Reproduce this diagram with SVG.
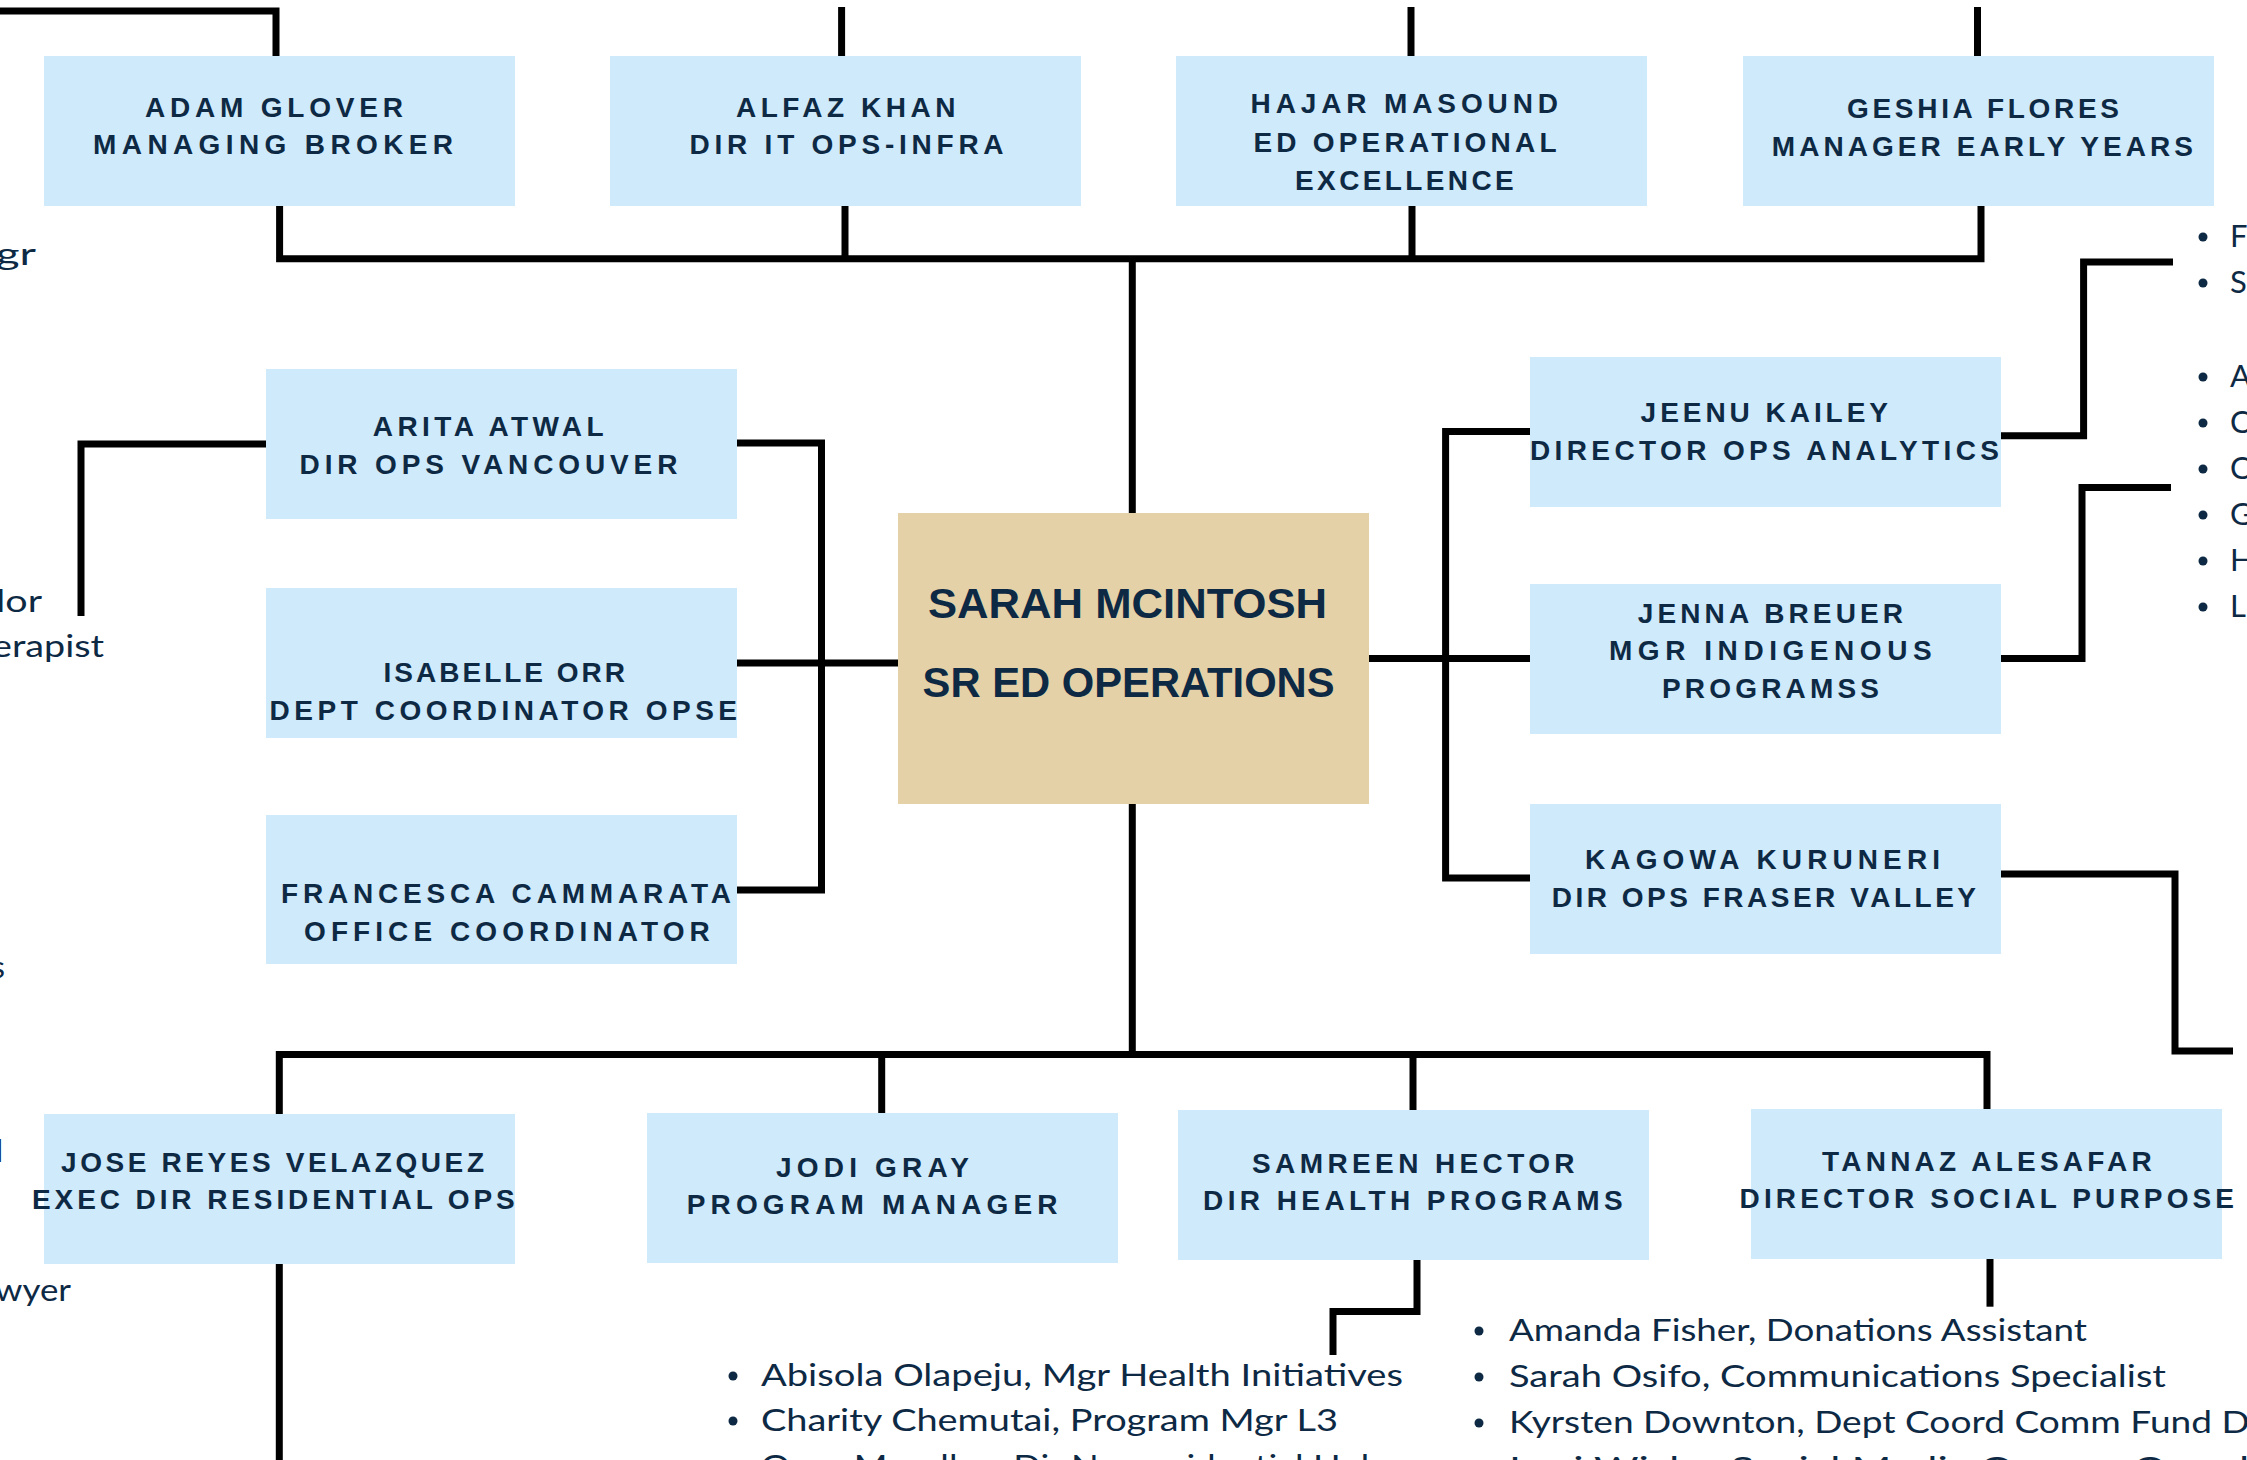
<svg xmlns="http://www.w3.org/2000/svg" width="2247" height="1460" viewBox="0 0 2247 1460">
<style>
.box{fill:#cfeafb}
.main{fill:#e5d1a7}
.t{font-family:"Liberation Sans",Arial,sans-serif;font-weight:700;font-size:28px;fill:#0d2944;text-anchor:middle}
.big{font-family:"Liberation Sans",Arial,sans-serif;font-weight:700;font-size:43px;fill:#0d2944;text-anchor:middle}
.l{font-family:Lato,"Liberation Sans",sans-serif;font-size:31px;fill:#0d2944}
.e{text-anchor:end}
.c{fill:none;stroke:#000;stroke-width:7}
.b{fill:#0d2944}
</style>
<rect width="2247" height="1460" fill="#fff"/>
<g id="connectors" class="c">
<path d="M0,11 H276 V56"/>
<path d="M841.6,7 V56"/>
<path d="M1411,7 V56"/>
<path d="M1977.5,7 V56"/>
<path d="M279.6,206 V258.7 H1981 V206"/>
<path d="M845,206 V258.7"/>
<path d="M1412,206 V258.7"/>
<path d="M1132.3,258.7 V513"/>
<path d="M1132.3,803.5 V1054.5"/>
<path d="M279.3,1114 V1054.5 H1987 V1109"/>
<path d="M881.7,1054.5 V1113"/>
<path d="M1413,1054.5 V1110"/>
<path d="M279.3,1264 V1460"/>
<path d="M737,443 H821.5 V890 H737"/>
<path d="M737,663 H898"/>
<path d="M1369,658.4 H1530"/>
<path d="M1530,431.6 H1445.6 V878 H1530"/>
<path d="M266,444 H81 V616"/>
<path d="M2001,435.7 H2083.6 V262 H2173"/>
<path d="M2001,658.4 H2082 V487.5 H2171"/>
<path d="M2001,874 H2175 V1051 H2233"/>
<path d="M1417,1260 V1311.5 H1333 V1355"/>
<path d="M1990,1258 V1306.7"/>
</g>
<g id="sarah"><rect class="main" x="898" y="513" width="471" height="291"/>
<text class="big" x="1127.5" y="618" textLength="399" lengthAdjust="spacingAndGlyphs">SARAH MCINTOSH</text>
<text class="big" x="1128.6" y="697" textLength="412" lengthAdjust="spacingAndGlyphs">SR ED OPERATIONS</text></g>
<g id="adam"><rect class="box" x="44" y="56" width="471" height="150"/>
<text class="t" x="273.9" y="117" textLength="258" lengthAdjust="spacing">ADAM GLOVER</text>
<text class="t" x="273.1" y="154" textLength="360" lengthAdjust="spacing">MANAGING BROKER</text></g>
<g id="alfaz"><rect class="box" x="610" y="56" width="471" height="150"/>
<text class="t" x="845.7" y="117" textLength="219.5" lengthAdjust="spacing">ALFAZ KHAN</text>
<text class="t" x="846.6" y="154" textLength="314" lengthAdjust="spacing">DIR IT OPS-INFRA</text></g>
<g id="hajar"><rect class="box" x="1176" y="56" width="471" height="150"/>
<text class="t" x="1404.3" y="113.3" textLength="307.4" lengthAdjust="spacing">HAJAR MASOUND</text>
<text class="t" x="1405" y="151.7" textLength="303.2" lengthAdjust="spacing">ED OPERATIONAL</text>
<text class="t" x="1404.4" y="190" textLength="218.7" lengthAdjust="spacing">EXCELLENCE</text></g>
<g id="geshia"><rect class="box" x="1743" y="56" width="471" height="150"/>
<text class="t" x="1983" y="118" textLength="272" lengthAdjust="spacing">GESHIA FLORES</text>
<text class="t" x="1982.4" y="156" textLength="421.3" lengthAdjust="spacing">MANAGER EARLY YEARS</text></g>
<g id="arita"><rect class="box" x="266" y="369" width="471" height="150"/>
<text class="t" x="488.2" y="435.7" textLength="230.8" lengthAdjust="spacing">ARITA ATWAL</text>
<text class="t" x="488.5" y="473.9" textLength="377.8" lengthAdjust="spacing">DIR OPS VANCOUVER</text></g>
<g id="isabelle"><rect class="box" x="266" y="588" width="471" height="150"/>
<text class="t" x="504.3" y="682.4" textLength="241.5" lengthAdjust="spacing">ISABELLE ORR</text>
<text class="t" x="503.3" y="720" textLength="467.5" lengthAdjust="spacing">DEPT COORDINATOR OPSE</text></g>
<g id="francesca"><rect class="box" x="266" y="815" width="471" height="149"/>
<text class="t" x="506" y="903" textLength="450" lengthAdjust="spacing">FRANCESCA CAMMARATA</text>
<text class="t" x="506.9" y="940.7" textLength="405.7" lengthAdjust="spacing">OFFICE COORDINATOR</text></g>
<g id="jeenu"><rect class="box" x="1530" y="357" width="471" height="150"/>
<text class="t" x="1764.3" y="422" textLength="247.4" lengthAdjust="spacing">JEENU KAILEY</text>
<text class="t" x="1764.5" y="459.8" textLength="469" lengthAdjust="spacing">DIRECTOR OPS ANALYTICS</text></g>
<g id="jenna"><rect class="box" x="1530" y="584" width="471" height="150"/>
<text class="t" x="1770.4" y="622.7" textLength="265.3" lengthAdjust="spacing">JENNA BREUER</text>
<text class="t" x="1770.3" y="660.4" textLength="322.6" lengthAdjust="spacing">MGR INDIGENOUS</text>
<text class="t" x="1770.5" y="698" textLength="217" lengthAdjust="spacing">PROGRAMSS</text></g>
<g id="kagowa"><rect class="box" x="1530" y="804" width="471" height="150"/>
<text class="t" x="1762.5" y="869" textLength="355" lengthAdjust="spacing">KAGOWA KURUNERI</text>
<text class="t" x="1763.9" y="907" textLength="424.3" lengthAdjust="spacing">DIR OPS FRASER VALLEY</text></g>
<g id="jose"><rect class="box" x="44" y="1114" width="471" height="150"/>
<text class="t" x="272.5" y="1171.7" textLength="423" lengthAdjust="spacing">JOSE REYES VELAZQUEZ</text>
<text class="t" x="273.4" y="1209" textLength="482.7" lengthAdjust="spacing">EXEC DIR RESIDENTIAL OPS</text></g>
<g id="jodi"><rect class="box" x="647" y="1113" width="471" height="150"/>
<text class="t" x="872.5" y="1176.7" textLength="193" lengthAdjust="spacing">JODI GRAY</text>
<text class="t" x="872.1" y="1214.3" textLength="370.8" lengthAdjust="spacing">PROGRAM MANAGER</text></g>
<g id="samreen"><rect class="box" x="1178" y="1110" width="471" height="150"/>
<text class="t" x="1413.3" y="1172.7" textLength="322.6" lengthAdjust="spacing">SAMREEN HECTOR</text>
<text class="t" x="1412.8" y="1210" textLength="419.6" lengthAdjust="spacing">DIR HEALTH PROGRAMS</text></g>
<g id="tannaz"><rect class="box" x="1751" y="1109" width="471" height="150"/>
<text class="t" x="1986.9" y="1170.7" textLength="329.7" lengthAdjust="spacing">TANNAZ ALESAFAR</text>
<text class="t" x="1986.8" y="1208.3" textLength="494.5" lengthAdjust="spacing">DIRECTOR SOCIAL PURPOSE</text></g>
<g id="left-fragments">
<text class="l e" x="36" y="265" textLength="40" lengthAdjust="spacingAndGlyphs">gr</text>
<text class="l e" x="42" y="612" textLength="46" lengthAdjust="spacingAndGlyphs">lor</text>
<text class="l e" x="104" y="657" textLength="112" lengthAdjust="spacingAndGlyphs">erapist</text>
<text class="l e" x="5" y="978">s</text>
<text class="l e" x="3" y="1162">l</text>
<text class="l e" x="71" y="1301" textLength="76" lengthAdjust="spacingAndGlyphs">wyer</text>
</g>
<g id="right-fragments">
<circle class="b" cx="2203" cy="237" r="4.5"/><text class="l" x="2230" y="247">F</text>
<circle class="b" cx="2203" cy="283" r="4.5"/><text class="l" x="2230" y="293">S</text>
<circle class="b" cx="2203" cy="377" r="4.5"/><text class="l" x="2230" y="387">A</text>
<circle class="b" cx="2203" cy="423" r="4.5"/><text class="l" x="2230" y="433">C</text>
<circle class="b" cx="2203" cy="469" r="4.5"/><text class="l" x="2230" y="479">C</text>
<circle class="b" cx="2203" cy="515" r="4.5"/><text class="l" x="2230" y="525">G</text>
<circle class="b" cx="2203" cy="561" r="4.5"/><text class="l" x="2230" y="571">H</text>
<circle class="b" cx="2203" cy="607" r="4.5"/><text class="l" x="2230" y="617">L</text>
</g>
<g id="health-list">
<circle class="b" cx="733" cy="1376" r="4.5"/><text class="l" x="761" y="1386" textLength="642" lengthAdjust="spacingAndGlyphs">Abisola Olapeju, Mgr Health Initiatives</text>
<circle class="b" cx="733" cy="1421" r="4.5"/><text class="l" x="761" y="1431" textLength="577" lengthAdjust="spacingAndGlyphs">Charity Chemutai, Program Mgr L3</text>
<text class="l" x="761" y="1477" textLength="620" lengthAdjust="spacingAndGlyphs">Ozan Macallan, Dir Nonresidential Hub</text>
</g>
<g id="social-list">
<circle class="b" cx="1479" cy="1331" r="4.5"/><text class="l" x="1509" y="1341" textLength="578" lengthAdjust="spacingAndGlyphs">Amanda Fisher, Donations Assistant</text>
<circle class="b" cx="1479" cy="1377" r="4.5"/><text class="l" x="1509" y="1387" textLength="657" lengthAdjust="spacingAndGlyphs">Sarah Osifo, Communications Specialist</text>
<circle class="b" cx="1479" cy="1423" r="4.5"/><text class="l" x="1509" y="1433" textLength="760" lengthAdjust="spacingAndGlyphs">Kyrsten Downton, Dept Coord Comm Fund De</text>
<text class="l" x="1509" y="1479" textLength="740" lengthAdjust="spacingAndGlyphs">Lexi Wicks, Social Media Comms Coord</text>
</g>
</svg>
